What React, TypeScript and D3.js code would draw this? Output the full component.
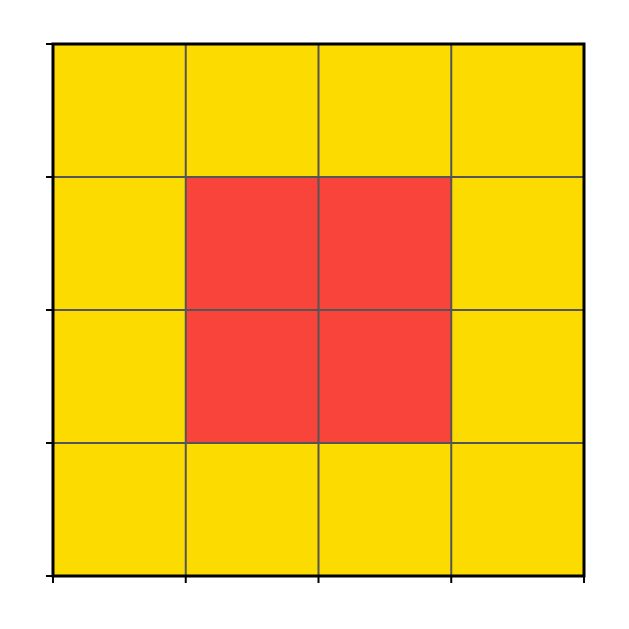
import { useEffect, useRef } from "react";
import * as d3 from "d3";

// rows top to bottom, columns left to right: 0 = yellow, 1 = red
const rows = ["r0", "r1", "r2", "r3"];
const cols = ["c0", "c1", "c2", "c3"];
const values = [
  [0, 0, 0, 0],
  [0, 1, 1, 0],
  [0, 1, 1, 0],
  [0, 0, 0, 0],
];
const palette = ["#FCDC00", "#F9443B"];

export default function App() {
  const ref = useRef<SVGSVGElement>(null);

  useEffect(() => {
    const svg = d3.select(ref.current);
    svg.selectAll("*").remove();

    const left = 53, right = 584, top = 44, bottom = 576;

    const x = d3.scaleBand(cols, [left, right]);
    const y = d3.scaleBand(rows, [top, bottom]);
    const color = d3.scaleOrdinal([0, 1], palette);

    const cells = values.flatMap((row, i) =>
      row.map((v, j) => ({ r: rows[i], c: cols[j], v }))
    );

    svg
      .append("g")
      .selectAll("rect")
      .data(cells)
      .join("rect")
      .attr("x", (d) => x(d.c)!)
      .attr("y", (d) => y(d.r)!)
      .attr("width", x.bandwidth())
      .attr("height", y.bandwidth())
      .attr("fill", (d) => color(d.v));

    // grid lines between cells
    const xEdges = d3.range(cols.length + 1).map((i) => left + i * x.step());
    const yEdges = d3.range(rows.length + 1).map((i) => top + i * y.step());

    const grid = svg.append("g").attr("stroke", "#555555").attr("stroke-width", 2);
    xEdges.slice(1, -1).forEach((gx) => {
      grid.append("line").attr("x1", gx).attr("x2", gx).attr("y1", top).attr("y2", bottom);
    });
    yEdges.slice(1, -1).forEach((gy) => {
      grid.append("line").attr("x1", left).attr("x2", right).attr("y1", gy).attr("y2", gy);
    });

    // frame
    svg
      .append("rect")
      .attr("x", left)
      .attr("y", top)
      .attr("width", right - left)
      .attr("height", bottom - top)
      .attr("fill", "none")
      .attr("stroke", "#000")
      .attr("stroke-width", 3);

    // ticks (no labels)
    const ticks = svg.append("g").attr("stroke", "#000").attr("stroke-width", 2);
    xEdges.forEach((tx) => {
      ticks.append("line").attr("x1", tx).attr("x2", tx).attr("y1", bottom).attr("y2", bottom + 7);
    });
    yEdges.forEach((ty) => {
      ticks.append("line").attr("x1", left - 7).attr("x2", left).attr("y1", ty).attr("y2", ty);
    });
  }, []);

  return (
    <svg
      ref={ref}
      width={629}
      height={629}
      style={{ position: "absolute", left: 0, top: 0, background: "#fff" }}
    />
  );
}
